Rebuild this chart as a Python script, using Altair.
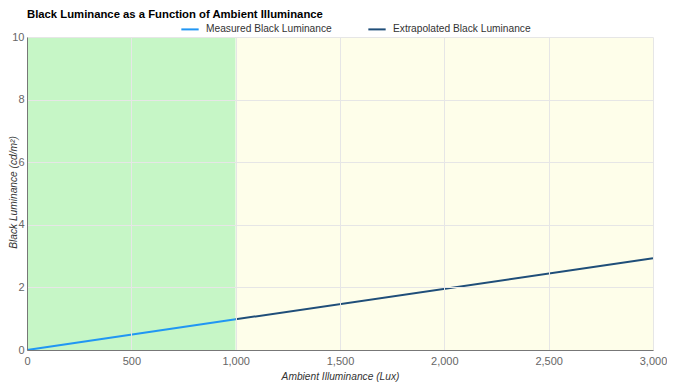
import altair as alt
import pandas as pd

# Data
measured_x = [0, 1000]
measured_y = [0.0, 0.98]
extrap_x = [1000, 3000]
extrap_y = [0.98, 2.93]
series_names = ["Measured Black Luminance", "Extrapolated Black Luminance"]
series_colors = ["#2196f3", "#1f4e79"]

region_start = [0, 1000]
region_end = [1000, 3000]
region_colors = ["#c6f6c6", "#fefeea"]
region_names = ["measured", "extrapolated"]

x_ticks = [0, 500, 1000, 1500, 2000, 2500, 3000]
y_ticks = [0, 2, 4, 6, 8, 10]

lines = pd.DataFrame(
    {"x": measured_x + extrap_x,
     "y": measured_y + extrap_y,
     "series": [series_names[0]] * len(measured_x) + [series_names[1]] * len(extrap_x)}
)
regions = pd.DataFrame({"x": region_start, "x2": region_end, "name": region_names, "color": region_colors})

font = "Liberation Sans"
H = 313

xscale = alt.Scale(domain=[0, 3000], nice=False, zero=False)
yscale = alt.Scale(domain=[0, 10], nice=False)

bg = alt.Chart(regions).mark_rect().encode(
    x=alt.X("x:Q", scale=xscale),
    x2="x2:Q",
    y=alt.value(0),
    y2=alt.value(H),
    color=alt.Color("color:N", scale=None),
)

line = alt.Chart(lines).mark_line(strokeWidth=2).encode(
    x=alt.X("x:Q", scale=xscale,
            axis=alt.Axis(title="Ambient Illuminance (Lux)", format=",.0f", values=x_ticks,
                          tickSize=0, labelPadding=5, titlePadding=5, grid=True, zindex=1)),
    y=alt.Y("y:Q", scale=yscale,
            axis=alt.Axis(title="Black Luminance (cd/m²)", values=y_ticks,
                          tickSize=0, labelPadding=3, titleX=-11, titleY=155, titleBaseline="alphabetic",
                          grid=True, zindex=1)),
    color=alt.Color("series:N", scale=alt.Scale(domain=series_names, range=series_colors),
                    legend=alt.Legend(title=None, orient="none", legendX=153, legendY=-18, direction="horizontal",
                                      symbolType="stroke", symbolStrokeWidth=2, symbolSize=300, labelOffset=6,
                                      labelFontSize=10.2, labelFont=font, labelColor="#333", columnPadding=32)),
    detail="series:N",
)

chart = alt.layer(bg, line).properties(
    width=626, height=H,
    autosize=alt.AutoSizeParams(type="none"),
    padding={"left": 19, "top": 29, "right": 14, "bottom": 32},
    title=alt.TitleParams("Black Luminance as a Function of Ambient Illuminance", anchor="start", frame="group",
                          fontSize=11.3, font=font, fontWeight="bold", color="#000", offset=0, dy=1),
).configure_axis(
    labelFont=font, titleFont=font, labelFontSize=11, titleFontSize=10.2, labelColor="#666",
    titleColor="#333", titleFontStyle="italic", titleFontWeight="normal",
    gridColor="#e6e6e6", domainColor="#777", labelFlush=False,
).configure_view(stroke=None)

chart.save("out.html", embed_options={"renderer": "svg", "actions": False})
